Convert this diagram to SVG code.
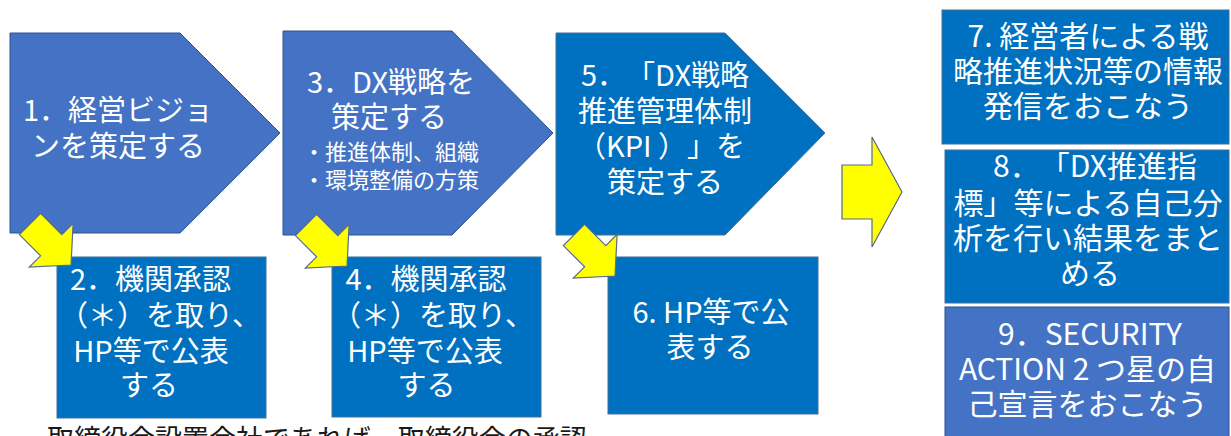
<svg xmlns="http://www.w3.org/2000/svg" width="1231" height="436" viewBox="0 0 1231 436">
<style>
.a{fill:#4472C4;stroke:#2F528F;stroke-width:1}
.b{fill:#0070C0;stroke:#41719C;stroke-width:1}
.y{fill:#FFFF00;stroke:#56698F;stroke-width:1.2}
.t{font-family:"Noto Sans CJK JP","Noto Sans",sans-serif;fill:#fff;text-anchor:middle;font-size:29px;text-spacing-trim:space-all}
.s{font-size:22px}
.r{font-size:30px}
.n{font-family:"Noto Sans CJK JP","Noto Sans",sans-serif;fill:#1a1a1a;font-size:27px;text-spacing-trim:space-all}
</style>
<defs><path id="da" d="M0,-15H30V-31L58,0L30,31V15H0Z"/></defs>
<rect width="1231" height="436" fill="#fff"/>
<g id="n1">
<polygon class="a" points="10,33 180,33 280,133 180,233 10,233"/>
<text class="t"><tspan x="118" y="121">1．経営ビジョ</tspan><tspan x="118" y="157">ンを策定する</tspan></text>
</g>
<g id="n3">
<polygon class="a" points="283,31 452,31 553,133 452,235 283,235"/>
<text class="t"><tspan x="391" y="93">3．DX戦略を</tspan><tspan x="389" y="128">策定する</tspan><tspan class="s" x="391" y="160">・推進体制、組織</tspan><tspan class="s" x="391" y="188">・環境整備の方策</tspan></text>
</g>
<g id="n5">
<polygon class="b" points="556,33 725,33 825,133 725,235 556,235"/>
<text class="t"><tspan x="665" y="86">5．「DX戦略</tspan><tspan x="665" y="121.5">推進管理体制</tspan><tspan x="661" y="157">（KPI ）」を</tspan><tspan x="665" y="192.5">策定する</tspan></text>
</g>
<g id="n2">
<rect class="b" x="57" y="257" width="209" height="161"/>
<text class="t"><tspan x="150.5" y="290">2．機関承認</tspan><tspan x="160" y="326">（＊）を取り、</tspan><tspan x="151" y="362">HP等で公表</tspan><tspan x="149" y="396">する</tspan></text>
</g>
<g id="n4">
<rect class="b" x="332" y="257" width="209" height="160"/>
<text class="t"><tspan x="426" y="290">4．機関承認</tspan><tspan x="433" y="326">（＊）を取り、</tspan><tspan x="425" y="362">HP等で公表</tspan><tspan x="426.5" y="396">する</tspan></text>
</g>
<g id="n6">
<rect class="b" x="608" y="257" width="210" height="157"/>
<text class="t"><tspan x="711" y="323">6. HP等で公</tspan><tspan x="710" y="358">表する</tspan></text>
</g>
<g id="n7">
<rect class="b" x="942" y="10" width="287" height="134"/>
<text class="t r"><tspan x="1088" y="46.5">7. 経営者による戦</tspan><tspan x="1088" y="81.5">略推進状況等の情報</tspan><tspan x="1088" y="117">発信をおこなう</tspan></text>
</g>
<g id="n8">
<rect class="b" x="945" y="150" width="284" height="153"/>
<text class="t r"><tspan x="1095" y="177">8．「DX推進指</tspan><tspan x="1088" y="214">標」等による自己分</tspan><tspan x="1088" y="249">析を行い結果をまと</tspan><tspan x="1090" y="284">める</tspan></text>
</g>
<g id="n9">
<rect class="a" x="945" y="307" width="284" height="140"/>
<text class="t r"><tspan x="1090" y="345">9．SECURITY</tspan><tspan x="1087.5" y="380">ACTION 2 つ星の自</tspan><tspan x="1087.5" y="415">己宣言をおこなう</tspan></text>
</g>
<g id="note">
<text class="n" x="47" y="449">取締役会設置会社であれば、取締役会の承認</text>
</g>
<g id="connectors">
<use href="#da" class="y" transform="translate(30,224) rotate(45)"/>
<use href="#da" class="y" transform="translate(306,225) rotate(45)"/>
<use href="#da" class="y" transform="translate(574,235) rotate(45)"/>
<polygon class="y" points="842,165 872,165 872,137 902,192 872,247 872,219 842,219"/>
</g>
</svg>
